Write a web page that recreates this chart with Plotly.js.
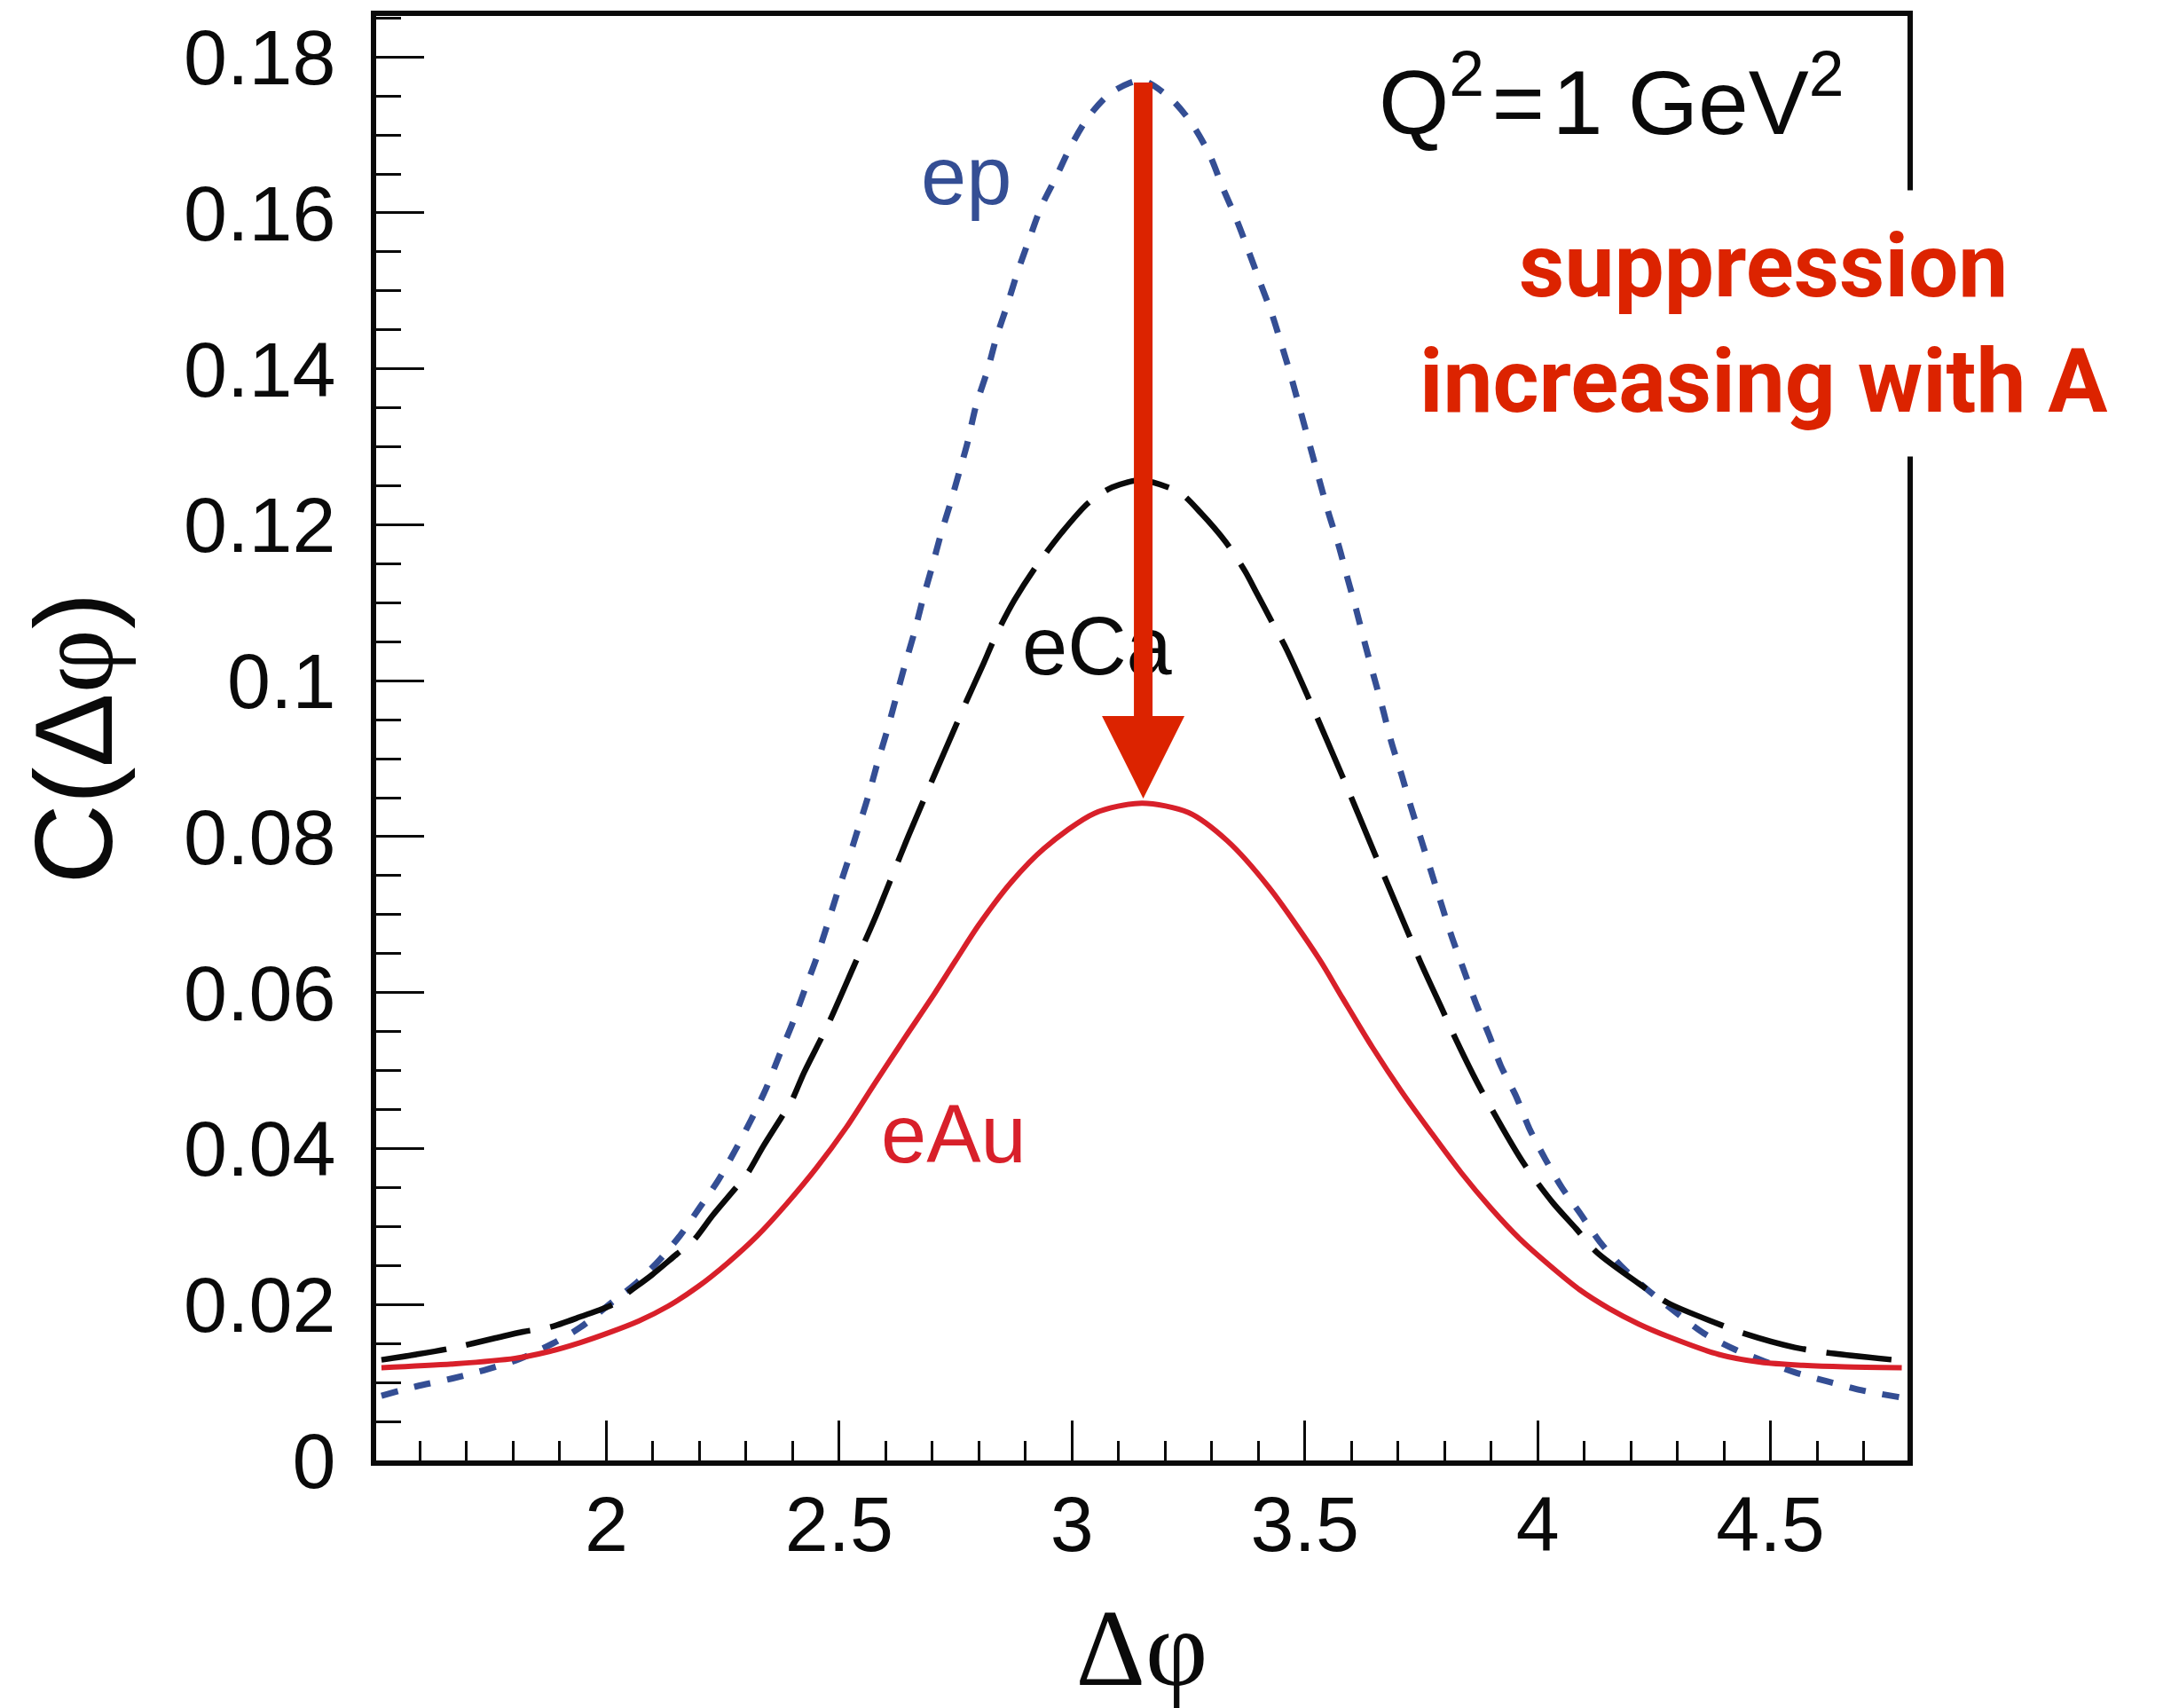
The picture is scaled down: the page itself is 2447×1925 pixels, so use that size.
<!DOCTYPE html>
<html>
<head>
<meta charset="utf-8">
<script src="https://cdn.plot.ly/plotly-3.0.1.min.js"></script>
<style>html,body{margin:0;padding:0;background:#fff;}</style>
</head>
<body>
<div id="chart" style="width:2447px;height:1925px;"></div>
<script>
// ---- data ----
var epX = [1.517,1.592,1.668,1.745,1.813,1.885,1.945,2.006,2.067,2.114,2.159,2.200,2.241,2.276,2.311,2.343,2.371,2.400,2.425,2.450,2.473,2.495,2.518,2.540,2.562,2.581,2.603,2.622,2.641,2.661,2.679,2.699,2.718,2.739,2.759,2.775,2.794,2.819,2.838,2.861,2.883,2.908,2.934,2.965,2.997,3.035,3.086,3.150,3.213,3.258,3.296,3.324,3.353,3.378,3.404,3.429,3.451,3.470,3.550,3.572,3.591,3.610,3.629,3.648,3.667,3.686,3.708,3.728,3.750,3.772,3.794,3.816,3.839,3.867,3.896,3.921,3.953,3.982,4.017,4.052,4.090,4.134,4.185,4.236,4.299,4.357,4.425,4.488,4.552,4.624,4.696,4.778];
var epY = [0.0083,0.0095,0.0105,0.0117,0.0130,0.0150,0.0171,0.0200,0.0229,0.0257,0.0289,0.0324,0.0360,0.0397,0.0437,0.0477,0.0519,0.0561,0.0602,0.0642,0.0684,0.0726,0.0767,0.0809,0.0851,0.0892,0.0936,0.0978,0.1020,0.1061,0.1103,0.1145,0.1187,0.1228,0.1270,0.1304,0.1353,0.1399,0.1441,0.1482,0.1524,0.1566,0.1608,0.1645,0.1685,0.1723,0.1755,0.1770,0.1746,0.1714,0.1674,0.1632,0.1592,0.1553,0.1511,0.1471,0.1429,0.1391,0.1217,0.1175,0.1133,0.1092,0.1048,0.1006,0.0965,0.0921,0.0879,0.0838,0.0796,0.0754,0.0712,0.0671,0.0633,0.0587,0.0545,0.0506,0.0468,0.0426,0.0386,0.0350,0.0318,0.0280,0.0246,0.0219,0.0189,0.0163,0.0142,0.0127,0.0113,0.0101,0.0090,0.0081];

var eCaX = [1.517,1.592,1.668,1.762,1.821,1.879,1.943,2.017,2.044,2.098,2.152,2.187,2.228,2.273,2.302,2.337,2.375,2.397,2.425,2.476,2.533,2.578,2.648,2.711,2.743,2.775,2.807,2.838,2.876,2.921,2.978,3.035,3.086,3.150,3.232,3.277,3.330,3.372,3.397,3.429,3.461,3.508,3.581,3.651,3.721,3.747,3.797,3.826,3.877,3.969,4.032,4.083,4.127,4.217,4.280,4.380,4.448,4.552,4.624,4.782];
var eCaY = [0.0129,0.0136,0.0144,0.0157,0.0165,0.0171,0.0184,0.0201,0.0214,0.0238,0.0265,0.0282,0.0314,0.0346,0.0367,0.0403,0.0439,0.0460,0.0498,0.0559,0.0636,0.0697,0.0800,0.0888,0.0932,0.0976,0.1018,0.1060,0.1103,0.1145,0.1190,0.1228,0.1248,0.1257,0.1241,0.1215,0.1178,0.1140,0.1112,0.1076,0.1040,0.0978,0.0877,0.0777,0.0678,0.0641,0.0576,0.0538,0.0477,0.0382,0.0331,0.0297,0.0267,0.0227,0.0202,0.0177,0.0162,0.0145,0.0138,0.0128];

var eAuX = [1.517,1.677,1.804,1.879,1.943,2.006,2.070,2.133,2.197,2.260,2.324,2.387,2.451,2.514,2.578,2.641,2.705,2.750,2.800,2.870,2.940,3.048,3.150,3.250,3.333,3.423,3.530,3.581,3.645,3.708,3.772,3.836,3.899,3.962,4.026,4.090,4.153,4.217,4.280,4.389,4.479,4.570,4.660,4.782];
var eAuY = [0.0119,0.0124,0.0131,0.0140,0.0151,0.0164,0.0179,0.0198,0.0223,0.0253,0.0288,0.0329,0.0375,0.0426,0.0485,0.0542,0.0599,0.0641,0.0687,0.0742,0.0785,0.0830,0.0843,0.0831,0.0795,0.0735,0.0644,0.0593,0.0530,0.0473,0.0420,0.0369,0.0324,0.0284,0.0250,0.0219,0.0195,0.0175,0.0159,0.0136,0.0126,0.0122,0.0120,0.0119];

var xTickVals = [2, 2.5, 3, 3.5, 4, 4.5];
var xTickText = ['2', '2.5', '3', '3.5', '4', '4.5'];
var yTickVals = [0, 0.02, 0.04, 0.06, 0.08, 0.10, 0.12, 0.14, 0.16, 0.18];
var yTickText = ['0', '0.02', '0.04', '0.06', '0.08', '0.1', '0.12', '0.14', '0.16', '0.18'];

// arrow: from ep peak down to eAu peak
var arrowX = 3.153;
var arrowTop = 0.1769;
var arrowTip = 0.0849;

var BLUE = '#344e94', RED = '#d8202a', ARROW = '#dc2300', BLACK = '#0a0a0a';
var SANS = 'Liberation Sans, Arial, Helvetica, sans-serif';
var SERIF = 'Liberation Serif, Times New Roman, serif';

var traces = [
  {x: epX, y: epY, mode: 'lines', name: 'ep',
   line: {color: BLUE, width: 7, dash: '19px,19px', shape: 'spline', smoothing: 0.8}},
  {x: eCaX, y: eCaY, mode: 'lines', name: 'eCa',
   line: {color: BLACK, width: 6.5, dash: '74px,23px', shape: 'spline', smoothing: 0.8}},
  {x: eAuX, y: eAuY, mode: 'lines', name: 'eAu',
   line: {color: RED, width: 6, shape: 'spline', smoothing: 0.8}}
];

var layout = {
  width: 2447, height: 1925,
  margin: {l: 424, r: 297, t: 18, b: 279},
  paper_bgcolor: '#ffffff', plot_bgcolor: '#ffffff',
  showlegend: false,
  xaxis: {
    range: [1.5057, 4.7943], autorange: false,
    tickmode: 'array', tickvals: xTickVals, ticktext: xTickText,
    ticks: 'inside', ticklen: 45, tickwidth: 3, tickcolor: BLACK,
    minor: {tickmode: 'linear', tick0: 0, dtick: 0.1, ticks: 'inside', ticklen: 22, tickwidth: 3, tickcolor: BLACK, showgrid: false},
    showline: true, mirror: true, linewidth: 6, linecolor: BLACK,
    showgrid: false, zeroline: false,
    tickfont: {family: SANS, size: 88, color: BLACK},
    ticklabelstandoff: -10,
    automargin: false,
    title: {text: 'Δφ', font: {family: SERIF, size: 122, color: BLACK}, standoff: 82}
  },
  yaxis: {
    range: [0, 0.18526], autorange: false,
    tickmode: 'array', tickvals: yTickVals, ticktext: yTickText,
    ticks: 'inside', ticklen: 54, tickwidth: 3, tickcolor: BLACK,
    minor: {tickmode: 'linear', tick0: 0, dtick: 0.005, ticks: 'inside', ticklen: 28, tickwidth: 3, tickcolor: BLACK, showgrid: false},
    showline: true, mirror: true, linewidth: 6, linecolor: BLACK,
    showgrid: false, zeroline: false,
    tickfont: {family: SANS, size: 88, color: BLACK},
    ticklabelstandoff: 22,
    automargin: false,
    title: {text: 'C(Δ<span style="font-family:Liberation Serif">φ</span>)', font: {family: SANS, size: 125, color: BLACK}, standoff: 40}
  },
  annotations: [
    {x: 3.655, y: 0.1750, xref: 'x', yref: 'y', xanchor: 'left', yanchor: 'middle', showarrow: false,
     text: 'Q<sup>2</sup>\u200a=\u200a1 GeV<sup>2</sup>', font: {family: SANS, size: 102, color: BLACK}},
    {x: 2.773, y: 0.1648, xref: 'x', yref: 'y', xanchor: 'center', yanchor: 'middle', showarrow: false,
     text: 'ep', font: {family: SANS, size: 92, color: BLUE}},
    {x: 3.055, y: 0.1045, xref: 'x', yref: 'y', xanchor: 'center', yanchor: 'middle', showarrow: false,
     text: 'eCa', font: {family: SANS, size: 92, color: BLACK}},
    {x: 2.746, y: 0.0419, xref: 'x', yref: 'y', xanchor: 'center', yanchor: 'middle', showarrow: false,
     text: 'eAu', font: {family: SANS, size: 92, color: RED}},
    {x: 4.486, y: 0.1458, xref: 'x', yref: 'y', xanchor: 'center', yanchor: 'middle', showarrow: false,
     text: 'suppression<br>increasing with A', bgcolor: '#ffffff', borderpad: 26,
     font: {family: 'Roboto, sans-serif', size: 100, color: ARROW, weight: 700}},
    {x: arrowX, y: arrowTip, ax: arrowX, ay: arrowTop, xref: 'x', yref: 'y', axref: 'x', ayref: 'y',
     text: '', showarrow: true, arrowhead: 2, arrowsize: 0.886, arrowwidth: 21, arrowcolor: ARROW, standoff: 0}
  ]
};

Plotly.newPlot('chart', traces, layout, {displayModeBar: false, staticPlot: true});
</script>
</body>
</html>
